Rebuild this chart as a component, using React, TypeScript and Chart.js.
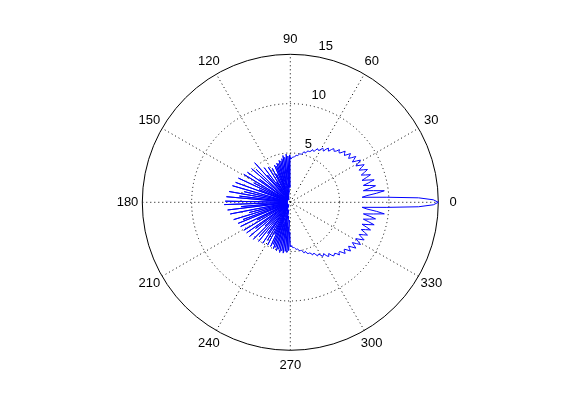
import React, { useEffect, useRef } from "react";
import { Chart, registerables } from "chart.js";

Chart.register(...registerables);

// Radius values, one per degree (counter-clockwise from 0°)
const R_Q1 = [
  15.0, 14.5, 13.0, 9.8, 7.3, 7.8, 8.8, 9.6, 8.5, 7.5,
  8.2, 8.8, 8.2, 7.6, 8.2, 8.8, 8.2, 7.6, 8.1, 8.6,
  8.1, 7.7, 8.1, 8.5, 8.1, 7.7, 8.0, 8.4, 8.0, 7.6,
  7.95, 8.3, 7.9, 7.5, 7.8, 8.1, 7.7, 7.4, 7.6, 7.85,
  7.5, 7.25, 7.4, 7.6, 7.3, 7.05, 7.1, 7.3, 7.0, 6.85,
  6.9, 7.0, 6.8, 6.5, 6.6, 6.7, 6.5, 6.2, 6.3, 6.4,
  6.2, 6.0, 6.0, 6.1, 5.9, 5.7, 5.7, 5.8, 5.6, 5.5,
  5.5, 5.5, 5.4, 5.2, 5.3, 5.3, 5.1, 5.0, 5.0, 5.0,
  4.9, 4.8, 4.8, 4.8, 4.7, 4.6, 4.6, 4.6, 4.5, 4.4,
];
const R_Q2 = [
  4.4, 4.8, 1.5, 4.7, 2.0, 4.9, 1.0, 4.6, 2.5, 4.8,
  0.8, 4.5, 1.8, 4.3, 0.6, 4.4, 2.2, 4.1, 0.5, 4.2,
  1.5, 3.9, 0.4, 4.1, 0.8, 0.3, 3.2, 0.5, 3.9, 1.0,
  0.4, 0.6, 4.2, 0.5, 2.5, 0.3, 0.7, 4.4, 0.4, 0.5,
  3.6, 1.0, 5.4, 0.3, 0.6, 0.4, 4.8, 1.2, 0.3, 5.2,
  0.5, 0.4, 0.8, 3.9, 0.3, 5.3, 0.6, 0.4, 0.5, 5.5,
  1.5, 0.3, 4.2, 0.4, 0.6, 5.8, 0.5, 0.3, 3.4, 0.7,
  5.9, 0.4, 0.5, 0.3, 6.1, 1.2, 0.4, 4.8, 0.5, 0.3,
  6.3, 0.6, 0.4, 5.2, 0.3, 6.5, 0.8, 0.4, 0.6, 6.6,
];
const R_Q3 = [
  0.4, 0.5, 6.7, 0.6, 0.3, 5.0, 0.4, 6.4, 0.7, 0.3,
  0.5, 6.2, 0.4, 1.0, 4.3, 0.3, 0.5, 6.0, 0.6, 0.4,
  5.1, 0.3, 5.7, 0.8, 0.4, 0.5, 5.6, 0.3, 3.8, 0.6,
  0.4, 5.5, 1.1, 0.3, 0.5, 5.4, 0.4, 4.4, 0.3, 0.7,
  5.4, 0.4, 0.5, 3.5, 0.3, 5.3, 0.6, 0.4, 4.7, 1.0,
  0.3, 5.1, 0.5, 0.4, 3.9, 0.6, 5.0, 0.3, 0.8, 4.5,
  0.4, 1.4, 4.9, 0.5, 3.6, 0.4, 4.9, 1.2, 4.6, 1.8,
  5.0, 0.7, 4.8, 2.3, 5.1, 0.9, 4.9, 1.6, 5.2, 0.8,
  5.0, 2.2, 5.2, 1.4, 5.0, 2.5, 5.1, 1.8, 4.9, 3.0,
];
const R_Q4 = [
  4.5, 4.4, 4.5, 4.6, 4.6, 4.6, 4.7, 4.8, 4.8, 4.8,
  4.9, 5.0, 5.0, 5.0, 5.1, 5.3, 5.3, 5.2, 5.4, 5.5,
  5.5, 5.5, 5.6, 5.8, 5.7, 5.7, 5.9, 6.1, 6.0, 6.0,
  6.2, 6.4, 6.3, 6.2, 6.5, 6.7, 6.6, 6.5, 6.8, 7.0,
  6.9, 6.85, 7.0, 7.3, 7.1, 7.05, 7.3, 7.6, 7.4, 7.25,
  7.5, 7.85, 7.6, 7.4, 7.7, 8.1, 7.8, 7.5, 7.9, 8.3,
  7.95, 7.6, 8.0, 8.4, 8.0, 7.7, 8.1, 8.5, 8.1, 7.7,
  8.1, 8.6, 8.1, 7.6, 8.2, 8.8, 8.2, 7.6, 8.2, 8.8,
  8.2, 7.5, 8.5, 9.6, 8.8, 7.8, 7.3, 9.8, 13.0, 14.5,
];

const RING_VALUES = [5, 10, 15];
const R_MAX = 15;
const SPOKE_ANGLES = [0, 30, 60, 90, 120, 150];
const ANGLE_LABELS = ["0", "30", "60", "90", "120", "150", "180", "210", "240", "270", "300", "330"];
const ANGLE_LABEL_DEG = [0, 30, 60, 90, 120, 150, 180, 210, 240, 270, 300, 330];

// layout (pixels)
const W = 561;
const H = 420;
const CX = 290.3;
const CY = 202.3;
const PX_PER_UNIT = 148 / 15;
const FONT = '13px "Liberation Sans", Arial, sans-serif';

const rad = (d: number) => (d * Math.PI) / 180;

const polarGrid = {
  id: "polarGrid",
  beforeDatasetsDraw(chart: any) {
    const { ctx, scales } = chart;
    const xs = scales.x;
    const ys = scales.y;
    const px = (v: number) => xs.getPixelForValue(v);
    const py = (v: number) => ys.getPixelForValue(v);
    const cx = px(0);
    const cy = py(0);
    const unit = px(1) - px(0);
    ctx.save();
    ctx.strokeStyle = "#000";
    ctx.lineWidth = 1;
    ctx.setLineDash([1, 3]);
    RING_VALUES.forEach((r) => {
      if (r === R_MAX) return;
      ctx.beginPath();
      ctx.arc(cx, cy, r * unit, 0, Math.PI * 2);
      ctx.stroke();
    });
    SPOKE_ANGLES.forEach((a) => {
      const c = Math.cos(rad(a));
      const s = Math.sin(rad(a));
      ctx.beginPath();
      ctx.moveTo(px(-c * R_MAX), py(-s * R_MAX));
      ctx.lineTo(px(c * R_MAX), py(s * R_MAX));
      ctx.stroke();
    });
    ctx.setLineDash([]);
    ctx.beginPath();
    ctx.arc(cx, cy, R_MAX * unit, 0, Math.PI * 2);
    ctx.stroke();

    ctx.fillStyle = "#000";
    ctx.font = FONT;
    ctx.textAlign = "center";
    ctx.textBaseline = "middle";
    ANGLE_LABEL_DEG.forEach((a, i) => {
      const rr = 1.1 * R_MAX;
      ctx.fillText(ANGLE_LABELS[i], px(rr * Math.cos(rad(a))), py(rr * Math.sin(rad(a))));
    });
    ctx.textAlign = "left";
    ctx.textBaseline = "bottom";
    RING_VALUES.forEach((r) => {
      const rr = r + 0.25;
      ctx.fillText("  " + r, px(rr * Math.cos(rad(82))), py(rr * Math.sin(rad(82))));
    });
    ctx.restore();
  },
};

export default function App() {
  const ref = useRef<HTMLCanvasElement | null>(null);
  useEffect(() => {
    if (!ref.current) return;
    const all = [...R_Q1, ...R_Q2, ...R_Q3, ...R_Q4];
    const pts = all.map((r, i) => ({ x: r * Math.cos(rad(i)), y: r * Math.sin(rad(i)) }));
    pts.push({ ...pts[0] });
    const chart = new Chart(ref.current, {
      type: "scatter",
      data: {
        datasets: [
          {
            data: pts,
            showLine: true,
            borderColor: "#0000ff",
            backgroundColor: "#0000ff",
            borderWidth: 1,
            pointRadius: 0,
            tension: 0,
            fill: false,
          },
        ],
      },
      options: {
        animation: false,
        responsive: false,
        devicePixelRatio: 1,
        layout: { padding: 0 },
        plugins: { legend: { display: false }, tooltip: { enabled: false }, title: { display: false } },
        scales: {
          x: { type: "linear", display: false, min: -CX / PX_PER_UNIT, max: (W - CX) / PX_PER_UNIT },
          y: { type: "linear", display: false, min: -(H - CY) / PX_PER_UNIT, max: CY / PX_PER_UNIT },
        },
      },
      plugins: [polarGrid],
    });
    return () => chart.destroy();
  }, []);
  return (
    <div style={{ position: "absolute", left: 0, top: 0, width: W, height: H, background: "#fff" }}>
      <canvas ref={ref} width={W} height={H} />
    </div>
  );
}
